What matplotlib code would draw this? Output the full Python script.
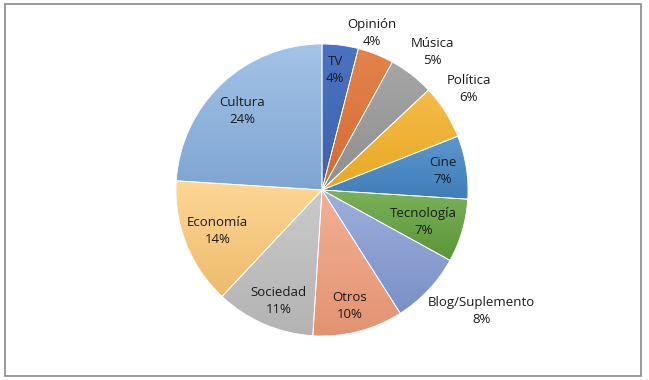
import matplotlib.pyplot as plt
import numpy as np
from matplotlib.colors import LinearSegmentedColormap
from matplotlib.patches import Rectangle

# datos del gráfico (sentido horario desde arriba)
categorias = ['TV', 'Opinión', 'Música', 'Política', 'Cine', 'Tecnología',
              'Blog/Suplemento', 'Otros', 'Sociedad', 'Economía', 'Cultura']
porcentajes = [4, 4, 5, 6, 7, 7, 8, 10, 11, 14, 24]

# colores degradados (arriba, abajo)
colores = [('#4A73C2', '#3D62AE'), ('#E4834D', '#D56A2F'), ('#A6A6A6', '#8E8E8E'),
           ('#F3BC48', '#E8A823'), ('#5E97CF', '#3F7DBA'), ('#7BB15A', '#5B9637'),
           ('#9EAFDD', '#7A90C7'), ('#F3B096', '#E39372'), ('#CACACA', '#B3B3B3'),
           ('#FED696', '#EDBC6C'), ('#A4C3E7', '#7EA5D2')]
# distancia de las etiquetas (fracción del radio) y giro en grados
dist_etiquetas = [0.83, 1.13, 1.21, 1.22, 0.84, 0.73, 1.37, 0.82, 0.82, 0.77, 0.77]
giro_etiquetas = [1, 4, -1, 2, 0, -1, 6, -1, 2, 0, 2]

plt.rcParams['font.family'] = ['Open Sans', 'DejaVu Sans']

fig = plt.figure(figsize=(6.49, 3.80), dpi=100)
ax = fig.add_axes([0, 0, 1, 1])

cx, cy, R = 322, 190, 146
wedges, _ = ax.pie(porcentajes, startangle=90, counterclock=False,
                   center=(cx, cy), radius=R, frame=True,
                   wedgeprops=dict(edgecolor='white', linewidth=0.6))
ax.set_xlim(0, 649)
ax.set_ylim(0, 380)
ax.set_aspect('equal')
ax.axis('off')

# marco exterior
ax.add_patch(Rectangle((4.5, 4), 636.5, 372, fill=False, edgecolor='#8A8A8A', lw=1.2))

# relleno con degradado vertical dentro de cada sector
grad = np.linspace(0, 1, 256).reshape(-1, 1)
for w, (c_top, c_bot) in zip(wedges, colores):
    w.set_facecolor('none')
    ext = w.get_path().get_extents(w.get_patch_transform())
    cmap = LinearSegmentedColormap.from_list('g', [c_bot, c_top])
    im = ax.imshow(grad, cmap=cmap, origin='lower', aspect='auto',
                   extent=[ext.x0, ext.x1, ext.y0, ext.y1], zorder=1)
    im.set_clip_path(w)
    w.set_zorder(2)

# etiquetas: nombre + porcentaje
for w, nombre, p, d, g in zip(wedges, categorias, porcentajes, dist_etiquetas, giro_etiquetas):
    ang = np.deg2rad((w.theta1 + w.theta2) / 2 + g)
    x = cx + d * R * np.cos(ang)
    y = cy + d * R * np.sin(ang)
    ax.text(x, y, f'{nombre}\n{p}%', ha='center', va='center', fontsize=9.5,
            color='#1A1A1A', linespacing=1.4, zorder=3)

plt.savefig('out.png', dpi=100)
